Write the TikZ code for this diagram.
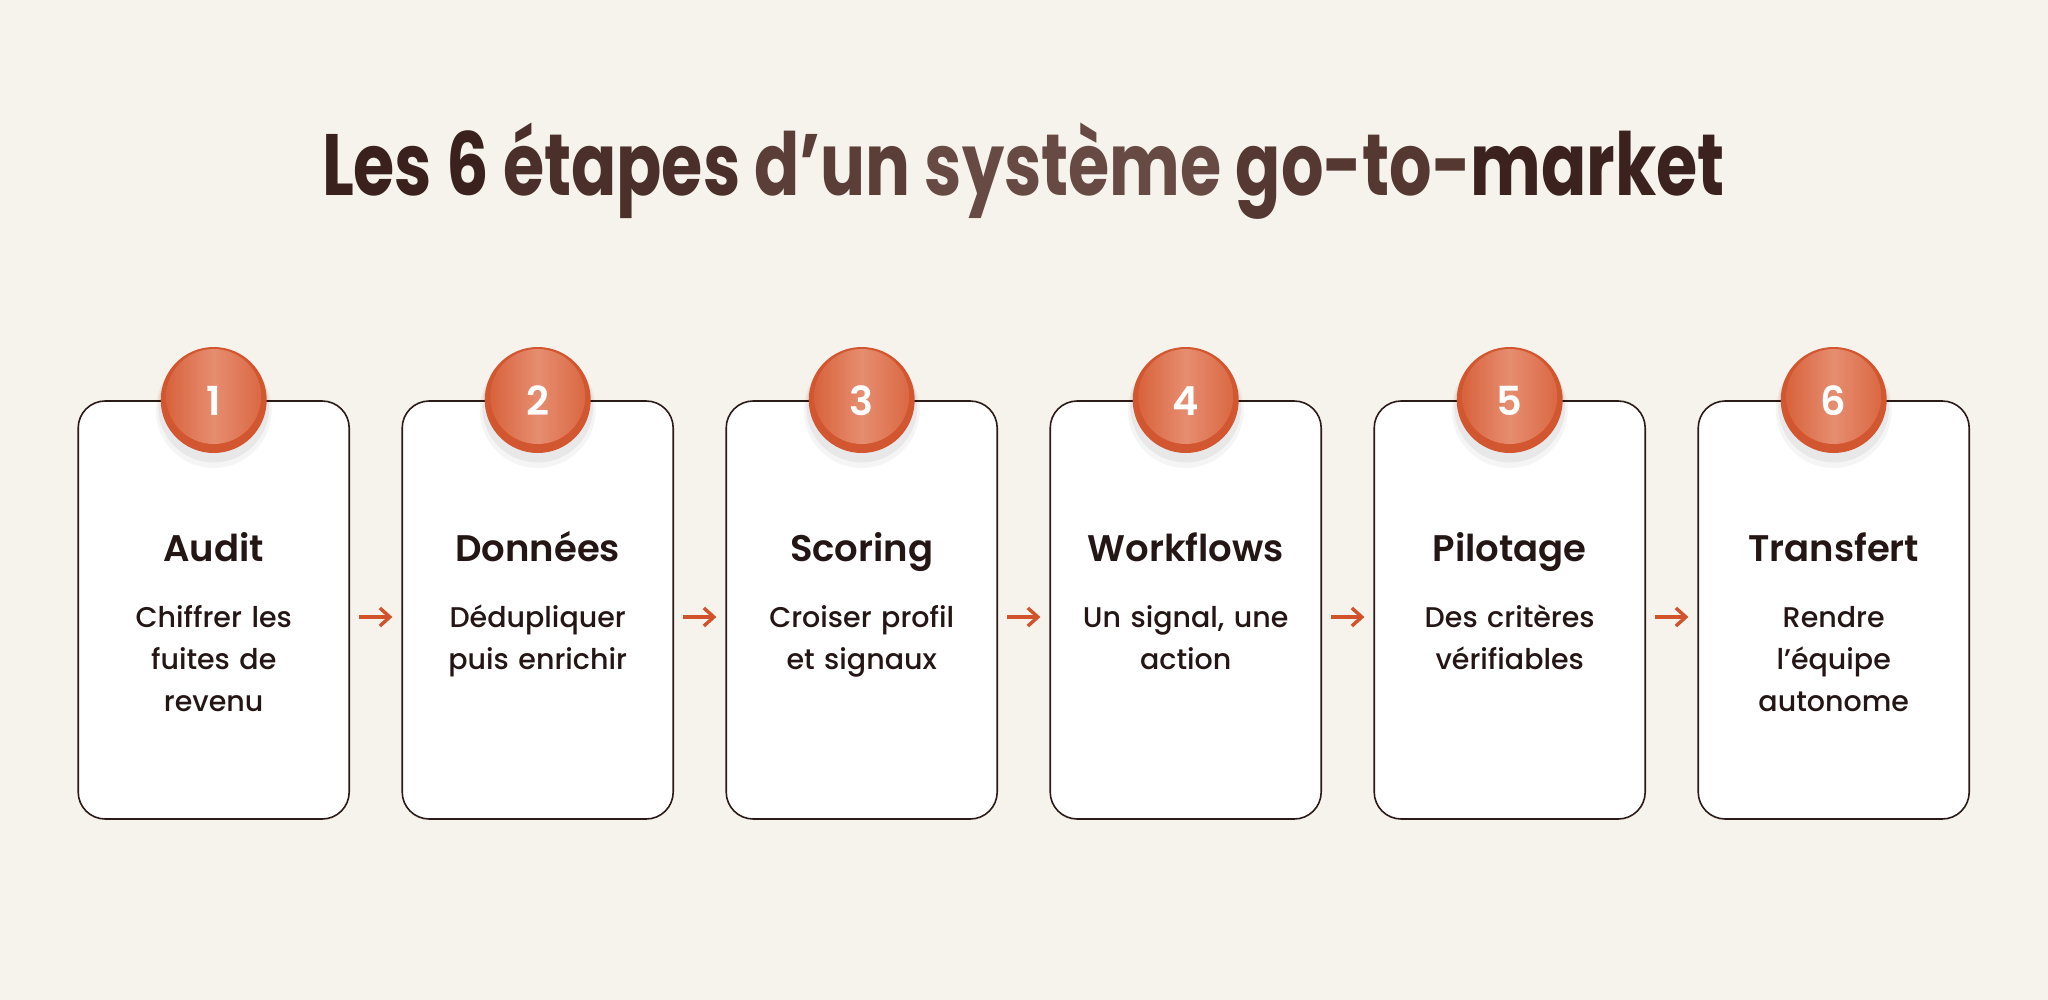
\documentclass[tikz,border=0pt]{standalone}
\usepackage{fontspec}
\usepackage{graphicx}
\setmainfont{Poppins}
\newfontfamily\headfont{Poppins}[UprightFont=* SemiBold]
\newfontfamily\bodyfont{Poppins}[UprightFont=* Medium]
\usetikzlibrary{arrows.meta}
\definecolor{bg}{HTML}{F5F3EB}
\definecolor{ink}{HTML}{231614}
\definecolor{cardline}{HTML}{2B1B18}
\definecolor{accent}{HTML}{D0532B}
\definecolor{ring}{HTML}{D2562F}
\definecolor{inL}{HTML}{D8633C}
\definecolor{inM}{HTML}{E68D70}
\definecolor{inR}{HTML}{DA6843}
\definecolor{tA}{HTML}{3A211D}
\definecolor{tB}{HTML}{4A2F2A}
\definecolor{tC}{HTML}{5C3E38}
\definecolor{tD}{HTML}{684A44}
\definecolor{tE}{HTML}{553832}
\definecolor{tF}{HTML}{3B221E}
\begin{document}
\begin{tikzpicture}[x=1pt,y=-1pt,
  card/.style={draw=cardline, line width=1.6pt, fill=white, rounded corners=27pt,
    minimum width=271pt, minimum height=418pt, inner sep=0pt},
  head/.style={anchor=base, text=ink, inner sep=0pt, font=\fontsize{37}{44}\selectfont\headfont},
  body/.style={anchor=base, text=ink, inner sep=0pt, text width=260pt, align=center,
    font=\fontsize{28.5}{42}\selectfont\bodyfont},
  num/.style={anchor=base, text=white, inner sep=0pt, font=\fontsize{40}{48}\selectfont\headfont},
  badge/.style={circle, fill=ring, minimum size=106pt, inner sep=0pt},
  arr/.style={-{Straight Barb[length=10pt,width=18pt,line width=3.4pt]}, draw=accent, line width=3.4pt,
    shorten <=9pt, shorten >=9pt}
]
\fill[bg] (0,0) rectangle (2048,1000);
\node[anchor=base, inner sep=0pt, font=\fontsize{87}{100}\selectfont\bfseries] (title) at (1023.5,196)
  {\resizebox{1403pt}{\height}{\color{tA}Les 6 \color{tB}étapes \color{tC}d’un \color{tD}système \color{tE}go-to-\color{tF}market}};
\foreach \i/\h/\t in {1/Audit/{Chiffrer les\\fuites de\\revenu},
    2/Données/{Dédupliquer\\puis enrichir},
    3/Scoring/{Croiser profil\\et signaux},
    4/Workflows/{Un signal, une\\action},
    5/Pilotage/{Des critères\\vérifiables},
    6/Transfert/{Rendre\\l’équipe\\autonome}} {
  \pgfmathsetmacro{\cx}{213.7+(\i-1)*324}
  \node[card] (c\i) at (\cx,610) {};
  \fill[black, opacity=0.04] (\cx,410) circle (58);
  \fill[black, opacity=0.05] (\cx,407) circle (55.5);
  \node[badge] (b\i) at (\cx,400) {};
  \shade[left color=inL, right color=inR, middle color=inM] (\cx,396.5) circle (47.5);
  \node[num] (n\i) at (\cx,415.7) {\i};
  \node[head] (h\i) at (\cx,561.7) {\h};
  \node[body] (t\i) at (\cx,627.7) {\t};
}
\foreach \i [evaluate=\i as \j using int(\i+1)] in {1,...,5}
  \draw[arr] ([yshift=-7pt]c\i.east) -- ([yshift=-7pt]c\j.west);
\end{tikzpicture}
\end{document}
